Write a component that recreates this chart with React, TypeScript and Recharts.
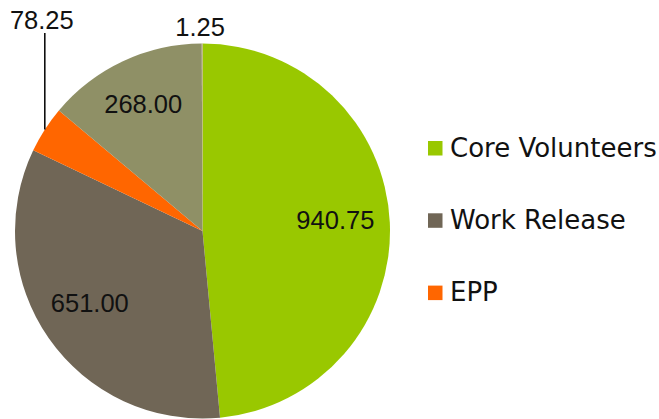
import React from "react";
import { PieChart, Pie, Cell, Legend } from "recharts";

const categories = ["Core Volunteers", "Work Release", "EPP", "Other", "Misc"];
const values = [940.75, 651.0, 78.25, 268.0, 1.25];
const valueLabels = ["940.75", "651.00", "78.25", "268.00", "1.25"];
const colors = ["#99C800", "#706656", "#FF6600", "#8F9066", "#B5A083"];
const legendCount = 3;

const data = categories.map((name, i) => ({ name, value: values[i] }));

const W = 659;
const H = 419;
const CX = 202.5;
const CY = 231;
const R = 187.5;
const RAD = Math.PI / 180;
const LABEL_FONT = "'Liberation Sans', Arial, sans-serif";
const LEGEND_FONT = "'DejaVu Sans', sans-serif";

const renderLabel = (props: any) => {
  const { cx, cy, midAngle, outerRadius, index } = props;
  const text = valueLabels[index];
  const cos = Math.cos(-midAngle * RAD);
  const sin = Math.sin(-midAngle * RAD);
  if (index === 2) {
    // leader line straight up from the slice edge
    const ex = cx + outerRadius * cos;
    const ey = cy + outerRadius * sin;
    const topY = cy - outerRadius - 10.5;
    return (
      <g key={`l${index}`}>
        <line x1={ex} y1={ey} x2={ex} y2={topY} stroke="#000" strokeWidth={1.5} />
        <text x={ex - 3} y={topY - 4} textAnchor="middle" fontSize={25.5} fontFamily={LABEL_FONT} fill="#111">
          {text}
        </text>
      </g>
    );
  }
  if (index === 4) {
    const x = cx + outerRadius * cos;
    const y = cy + outerRadius * sin;
    return (
      <text key={`l${index}`} x={x - 2} y={y - 7.5} textAnchor="middle" fontSize={25.5} fontFamily={LABEL_FONT} fill="#111">
        {text}
      </text>
    );
  }
  const r = outerRadius * 0.72;
  const x = cx + r * cos;
  const y = cy + r * sin;
  return (
    <text key={`l${index}`} x={x - 2} y={y + 4} textAnchor="middle" fontSize={25.5} fontFamily={LABEL_FONT} fill="#111">
      {text}
    </text>
  );
};

const renderLegend = () => (
  <svg width={231} height={180} style={{ display: "block", overflow: "visible" }}>
    {categories.slice(0, legendCount).map((name, i) => (
      <g key={name} transform={`translate(0, ${i * 72.3})`}>
        <rect x={0} y={0} width={14.5} height={14.5} fill={colors[i]} />
        <text x={22} y={15.7} fontSize={26} fontFamily={LEGEND_FONT} fill="#111">
          {name}
        </text>
      </g>
    ))}
  </svg>
);

export default function App() {
  return (
    <div style={{ position: "absolute", left: 0, top: 0, width: W, height: H, background: "#fff" }}>
      <PieChart width={W} height={H} margin={{ top: 0, right: 0, bottom: 0, left: 0 }}>
        <Pie
          data={data}
          dataKey="value"
          nameKey="name"
          cx={CX}
          cy={CY}
          outerRadius={R}
          startAngle={90}
          endAngle={-270}
          stroke="none"
          label={renderLabel}
          labelLine={false}
          isAnimationActive={false}
        >
          {data.map((d, i) => (
            <Cell key={d.name} fill={colors[i]} />
          ))}
        </Pie>
        <Legend
          content={renderLegend}
          wrapperStyle={{ position: "absolute", left: 428, top: 141, width: 231, height: 180 }}
        />
      </PieChart>
    </div>
  );
}
